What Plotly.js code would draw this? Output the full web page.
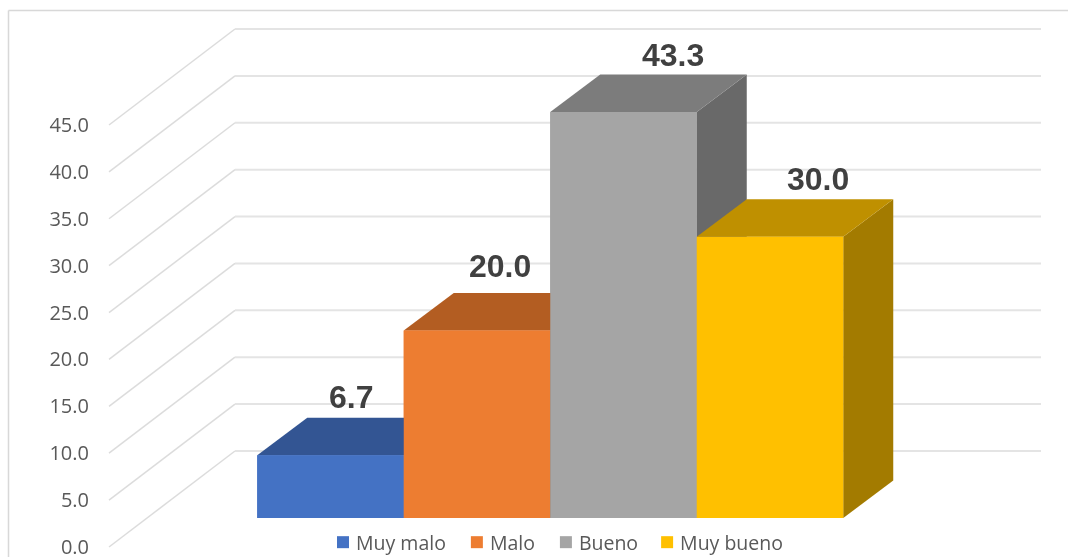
<!DOCTYPE html>
<html><head><meta charset="utf-8">
<script src="https://cdn.plot.ly/plotly-3.0.1.min.js"></script>
<style>html,body{margin:0;padding:0;background:#fff;overflow:hidden}#c{width:1068px;height:557px;filter:blur(0.6px)}</style>
</head><body><div id="c"></div>
<script>
// Data
const categories = ["Muy malo", "Malo", "Bueno", "Muy bueno"];
const values = [6.7, 20.0, 43.3, 30.0];
const tickValues = [0, 5, 10, 15, 20, 25, 30, 35, 40, 45];

// Styles
const frontColors = ["#4472C4", "#ED7D31", "#A5A5A5", "#FFC000"];
const topColors = ["#335593", "#B35D22", "#7C7C7C", "#BF9000"];
const sideColors = ["#2A4777", "#8F4A1B", "#696969", "#A37B00"];

// Projection constants, in axis units
const W = 1068, H = 557;
const pxPerValue = 9.378, pxPerBar = 146.5;
const zeroPx = 547, firstBarPx = 330.5;
const xRange = [-firstBarPx / pxPerBar, (W - firstBarPx) / pxPerBar];
const yRange = [(zeroPx - H) / pxPerValue, zeroPx / pxPerValue];
const depthX = 50 / pxPerBar, depthY = 37.5 / pxPerValue;
const base = (zeroPx - 518) / pxPerValue;
const wallX = (235 - firstBarPx) / pxPerBar, wallFrontX = (109 - firstBarPx) / pxPerBar;
const wallRightX = (1041 - firstBarPx) / pxPerBar, wallDepthY = 96 / pxPerValue;
const labelNudgeX = [20, 23, 49, 48], labelNudgeY = [58, 64, 57, 58];
const legendNudgeX = [0, -1, -2, -5];

const traces = [];
// Bars (carry the legend)
categories.forEach((c, i) => traces.push({
  type: "bar", name: c, x: [i], y: [values[i]], base: [base], width: 1,
  marker: {color: frontColors[i], line: {width: 0}}, hoverinfo: "skip"
}));
// Oblique faces, painted left to right so each bar hides its left neighbour's depth
function face(xs, ys, color) {
  traces.push({type: "scatter", mode: "lines", x: xs.concat(xs[0]), y: ys.concat(ys[0]),
    fill: "toself", fillcolor: color, line: {width: 0}, showlegend: false, hoverinfo: "skip"});
}
values.forEach((v, i) => {
  const l = i - 0.5, r = i + 0.5, t = base + v, b = base;
  face([r, r + depthX, r + depthX, r], [b, b + depthY, t + depthY, t], sideColors[i]);
  face([l, r, r + depthX, l + depthX], [t, t, t + depthY, t + depthY], topColors[i]);
  face([l, r, r, l], [b, b, t, t], frontColors[i]);
});

// Walls
const shapes = [];
tickValues.forEach(v => {
  shapes.push({type: "line", layer: "below", xref: "x", yref: "y",
    x0: wallFrontX, x1: wallX, y0: v, y1: v + wallDepthY, line: {color: "#DCDCDC", width: 1.5}});
  shapes.push({type: "line", layer: "below", xref: "x", yref: "y",
    x0: wallX, x1: wallRightX, y0: v + wallDepthY, y1: v + wallDepthY, line: {color: "#E4E4E4", width: 2}});
});
// Chart frame: left and top only
shapes.push({type: "line", layer: "below", xref: "paper", yref: "paper",
  x0: 8.5 / W, x1: 8.5 / W, y0: 0, y1: 1 - 10.5 / H, line: {color: "#D8D8D8", width: 1.5}});
shapes.push({type: "line", layer: "below", xref: "paper", yref: "paper",
  x0: 8.5 / W, x1: 1, y0: 1 - 10.5 / H, y1: 1 - 10.5 / H, line: {color: "#D8D8D8", width: 1.5}});

const annotations = values.map((v, i) => ({
  x: i, y: base + v, xref: "x", yref: "y", text: v.toFixed(1), showarrow: false,
  xanchor: "center", yanchor: "middle", xshift: labelNudgeX[i], yshift: labelNudgeY[i],
  font: {family: "Liberation Sans", size: 32, color: "#404040", weight: 700}
}));

const layout = {
  width: W, height: H, margin: {l: 0, r: 0, t: 0, b: 0, pad: 0},
  paper_bgcolor: "#fff", plot_bgcolor: "rgba(0,0,0,0)", barmode: "overlay",
  xaxis: {range: xRange, visible: false, fixedrange: true},
  yaxis: {range: yRange, anchor: "free", position: 89 / W, tickvals: tickValues, tickformat: ".1f",
    showgrid: false, zeroline: false, showline: false, ticks: "", automargin: false,
    ticklabeloverflow: "allow",
    tickfont: {family: "Open Sans", size: 20, color: "#595959"}, fixedrange: true},
  shapes, annotations, showlegend: true,
  legend: {orientation: "h", x: 323 / W, xanchor: "left", y: 0, yanchor: "bottom",
    bgcolor: "rgba(0,0,0,0)", font: {family: "Open Sans", size: 19.5, color: "#595959"},
    itemwidth: 30, tracegroupgap: 0, itemclick: false, itemdoubleclick: false}
};
Plotly.newPlot("c", traces, layout, {displayModeBar: false, staticPlot: true}).then(gd => {
  // Tighten the swatch-to-text gap and lower the legend to sit under the bars
  const tr = /translate\(([-\d.]+),\s*([-\d.]+)\)/;
  gd.querySelectorAll(".legendtext").forEach(t => t.setAttribute("x", parseFloat(t.getAttribute("x")) - 7));
  const lg = gd.querySelector(".legend");
  const m = tr.exec(lg.getAttribute("transform"));
  lg.setAttribute("transform", `translate(${m[1]},${parseFloat(m[2]) + 5})`);
  gd.querySelectorAll(".legend .traces").forEach((g, i) => {
    const n = tr.exec(g.getAttribute("transform"));
    g.setAttribute("transform", `translate(${parseFloat(n[1]) + legendNudgeX[i]},${n[2]})`);
  });
});
</script></body></html>
